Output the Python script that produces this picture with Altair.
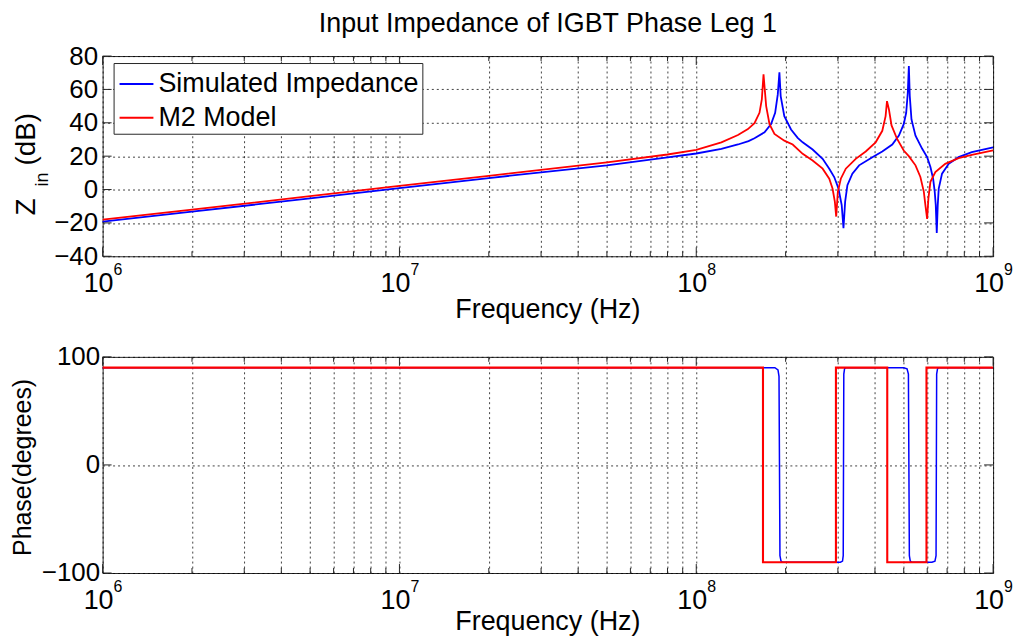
import altair as alt
import pandas as pd

# ---------------- data ----------------
SERIES = ["Simulated Impedance", "M2 Model"]
COLORS = ["#0000ff", "#ff0000"]

# magnitude, simulated impedance (Hz, dB)
f_sim = [1e6, 2e6, 5e6, 1e7, 2e7, 5e7, 8e7, 1e8,
         1.215e8, 1.382e8, 1.5e8, 1.571e8, 1.698e8, 1.787e8, 1.844e8, 1.882e8, 1.906e8, 1.925e8,
         1.98e8, 2.086e8, 2.196e8, 2.283e8, 2.466e8, 2.665e8, 2.806e8, 2.916e8, 3.014e8, 3.09e8,
         3.133e8, 3.174e8, 3.23e8, 3.357e8, 3.537e8, 3.92e8, 4.233e8, 4.574e8, 4.816e8, 5.0e8,
         5.096e8, 5.16e8, 5.203e8, 5.24e8, 5.31e8, 5.478e8, 5.77e8, 5.995e8, 6.151e8, 6.28e8,
         6.36e8, 6.41e8, 6.46e8, 6.51e8, 6.56e8, 6.73e8, 7.087e8, 7.65e8, 8.48e8, 1e9]
db_sim = [-19.3, -13.3, -5.3, 0.9, 6.9, 14.5, 19.3, 21.6,
          24.4, 27.0, 29.0, 30.7, 34.3, 39.2, 46.0, 57.0, 70.3, 56.0,
          44.0, 36.0, 31.0, 28.3, 24.0, 18.4, 12.5, 7.5, 0.6, -9.3,
          -23.2, -7.3, 2.6, 9.5, 14.5, 19.4, 22.8, 27.0, 32.3, 39.2,
          46.0, 58.0, 74.0, 56.0, 42.0, 32.3, 24.4, 19.4, 13.5, 6.5,
          -1.4, -9.3, -26.0, -9.3, 0.6, 9.5, 15.4, 19.4, 22.4, 25.3]

# magnitude, M2 model (Hz, dB)
f_m2 = [1e6, 2e6, 5e6, 1e7, 2e7, 5e7, 8e7, 1e8,
        1.215e8, 1.382e8, 1.493e8, 1.571e8, 1.633e8, 1.663e8, 1.685e8, 1.705e8, 1.72e8, 1.765e8,
        1.834e8, 1.98e8, 2.113e8, 2.283e8, 2.466e8, 2.665e8, 2.806e8, 2.878e8, 2.93e8, 2.961e8,
        2.999e8, 3.069e8, 3.19e8, 3.445e8, 3.723e8, 4.021e8, 4.234e8, 4.344e8, 4.391e8, 4.458e8,
        4.549e8, 4.75e8, 5e8, 5.2e8, 5.478e8, 5.69e8, 5.844e8, 5.915e8, 5.995e8, 6.055e8,
        6.15e8, 6.39e8, 6.9e8, 7.65e8, 8.48e8, 1e9]
db_m2 = [-18.0, -12.0, -4.0, 2.2, 8.2, 16.3, 21.0, 23.8,
         28.3, 32.7, 36.2, 39.8, 46.0, 54.0, 69.0, 58.0, 50.0, 39.2,
         33.3, 29.3, 27.0, 21.4, 17.4, 12.5, 6.5, 0.6, -7.3, -16.2,
         -1.4, 6.5, 12.5, 18.4, 22.8, 28.3, 35.2, 44.0, 53.0, 48.0,
         38.4, 30.3, 23.4, 20.0, 14.5, 7.5, -1.4, -9.3, -17.6, -5.3,
         4.6, 10.5, 15.4, 18.8, 20.8, 23.4]

# phase, simulated impedance (Hz, degrees)
ph_f_sim = [1e6, 1.84e8, 1.885e8, 1.9e8, 1.907e8, 1.914e8, 1.93e8, 1.95e8,
            3.06e8, 3.11e8, 3.127e8, 3.134e8, 3.141e8, 3.16e8, 3.2e8,
            5.0e8, 5.13e8, 5.185e8, 5.204e8, 5.223e8, 5.26e8, 5.32e8,
            6.22e8, 6.37e8, 6.425e8, 6.44e8, 6.455e8, 6.5e8, 6.58e8, 1e9]
ph_sim = [90, 90, 88, 82, 0, -84, -89, -90,
          -90, -89, -84, 0, 84, 89, 90,
          90, 89, 84, 0, -84, -89, -90,
          -90, -89, -84, 0, 84, 89, 90, 90]

# phase, M2 model (Hz, degrees)
ph_f_m2 = [1e6, 1.678e8, 1.678e8, 2.955e8, 2.955e8, 4.40e8, 4.40e8, 5.965e8, 5.965e8, 1e9]
ph_m2 = [90, 90, -90, -90, 90, 90, -90, -90, 90, 90]

# axes / tick labels
MAJOR_X = [1e6, 1e7, 1e8, 1e9]
EXPONENTS = ["6", "7", "8", "9"]
MINOR_X = [m * 10.0 ** k for k in (6, 7, 8) for m in range(2, 10)]
MAG_TICKS = [-40, -20, 0, 20, 40, 60, 80]
PHASE_TICKS = [-100, 0, 100]

TITLE = "Input Impedance of IGBT Phase Leg 1"
X_TITLE = "Frequency (Hz)"
PHASE_TITLE = "Phase(degrees)"
Z_TITLE = ["Z", "in", "(dB)"]

# ---------------- styling ----------------
W = 894
H1 = 201
H2 = 217
FONT = "Liberation Sans"
FS = 27
FS_TICK = 26
AX = "#262626"

xscale = alt.Scale(type="log", domain=[1e6, 1e9], nice=False)
grid_x = sorted(MAJOR_X + MINOR_X)
x_axis = alt.Axis(values=grid_x, grid=True, labels=False, ticks=False, tickSize=0,
                  domain=False, title=None, gridDash=[2, 3], gridColor="#000",
                  gridOpacity=0.75, gridWidth=1)


def series_df(fs, vs, name, color):
    return pd.DataFrame({"f": fs, "v": vs, "series": name, "c": color,
                         "i": list(range(len(fs)))})


def text_layer(txt, x, y, size, angle=0, align="center"):
    kw = dict(align=align, baseline="alphabetic", fontSize=size, font=FONT, color="#000")
    if angle:
        kw["angle"] = angle
    return alt.Chart(pd.DataFrame({"t": [txt]})).mark_text(**kw).encode(
        x=alt.value(x), y=alt.value(y), text="t:N")


def panel(frames, widths, ydomain, yticks, H, with_legend, label_pad, xtitle_gap):
    yscale = alt.Scale(domain=ydomain, nice=False, zero=False)
    y_axis = alt.Axis(values=yticks, grid=True, ticks=False, tickSize=0, domain=False,
                      title=None, labelFontSize=FS_TICK, labelFont=FONT, labelColor="#000",
                      labelPadding=label_pad, gridDash=[2, 3], gridColor="#000",
                      gridOpacity=0.75, gridWidth=1)
    xenc = alt.X("f:Q", scale=xscale, axis=x_axis)
    yenc = alt.Y("v:Q", scale=yscale, axis=y_axis)

    layers = []
    for df, sw in zip(frames, widths):
        if with_legend:
            color = alt.Color(
                "series:N",
                scale=alt.Scale(domain=SERIES, range=COLORS),
                legend=alt.Legend(
                    orient="none", legendX=11, legendY=7, title=None,
                    symbolType="stroke", symbolSize=1156, symbolStrokeWidth=2,
                    labelFontSize=FS, labelFont=FONT, labelColor="#000", labelLimit=0,
                    labelOffset=4, rowPadding=3, padding=3, symbolOffset=2,
                    strokeColor=AX, fillColor="#ffffff", cornerRadius=0,
                ),
            )
        else:
            color = alt.Color("c:N", scale=None)
        layers.append(alt.Chart(df).mark_line(strokeWidth=sw).encode(
            x=xenc, y=yenc, color=color, order="i:Q"))

    xt = alt.Chart(pd.DataFrame({"f": MAJOR_X}))
    xm = alt.Chart(pd.DataFrame({"f": MINOR_X}))
    rule = dict(color=AX, strokeWidth=1)
    layers += [
        xt.mark_rule(**rule).encode(x=xenc, y=alt.value(H), y2=alt.value(H - 9)),
        xt.mark_rule(**rule).encode(x=xenc, y=alt.value(0), y2=alt.value(9)),
        xm.mark_rule(**rule).encode(x=xenc, y=alt.value(H), y2=alt.value(H - 5)),
        xm.mark_rule(**rule).encode(x=xenc, y=alt.value(0), y2=alt.value(5)),
    ]
    yt = alt.Chart(pd.DataFrame({"v": yticks}))
    layers += [
        yt.mark_rule(**rule).encode(y=yenc, x=alt.value(0), x2=alt.value(9)),
        yt.mark_rule(**rule).encode(y=yenc, x=alt.value(W - 9), x2=alt.value(W)),
    ]

    lab = alt.Chart(pd.DataFrame({"f": MAJOR_X, "base": ["10"] * 4, "exp": EXPONENTS}))
    layers.append(lab.mark_text(align="right", baseline="alphabetic", dx=11, fontSize=FS,
                                font=FONT, color="#000").encode(
        x=xenc, y=alt.value(H + 36), text="base:N"))
    layers.append(lab.mark_text(align="left", baseline="alphabetic", dx=11, fontSize=16,
                                font=FONT, color="#000").encode(
        x=xenc, y=alt.value(H + 19), text="exp:N"))
    layers.append(text_layer(X_TITLE, W / 2, H + xtitle_gap, FS))
    return layers


mag_frames = [series_df(f_sim, db_sim, SERIES[0], COLORS[0]),
              series_df(f_m2, db_m2, SERIES[1], COLORS[1])]
ph_frames = [series_df(ph_f_sim, ph_sim, SERIES[0], COLORS[0]),
             series_df(ph_f_m2, ph_m2, SERIES[1], COLORS[1])]

# ---- top panel: magnitude ----
top_layers = panel(mag_frames, [1.8, 1.8], [-40, 80], MAG_TICKS, H1, True, 5, 62)
top_layers += [
    text_layer(Z_TITLE[0], -68, 160, 28, angle=270, align="left"),
    text_layer(Z_TITLE[1], -55, 131, 18, angle=270, align="left"),
    text_layer(Z_TITLE[2], -68, 110, 28, angle=270, align="left"),
    text_layer(TITLE, W / 2, -24.5, FS),
]
top = alt.layer(*top_layers).properties(width=W, height=H1)

# ---- bottom panel: phase ----
bot_layers = panel(ph_frames, [1.5, 2.1], [-100, 100], PHASE_TICKS, H2, False, 3, 57)
bot_layers.append(text_layer(PHASE_TITLE, -72, 111, 25, angle=270))
bottom = alt.layer(*bot_layers).properties(width=W, height=H2)

chart = (
    alt.vconcat(top, bottom, spacing=19)
    .resolve_scale(color="independent")
    .resolve_legend(color="independent")
    .properties(padding={"left": 2, "top": 0, "right": 0, "bottom": 0}, background="#ffffff")
    .configure_view(stroke=AX, strokeWidth=1)
)

chart.save("out.html", embed_options={"renderer": "svg", "actions": False})
